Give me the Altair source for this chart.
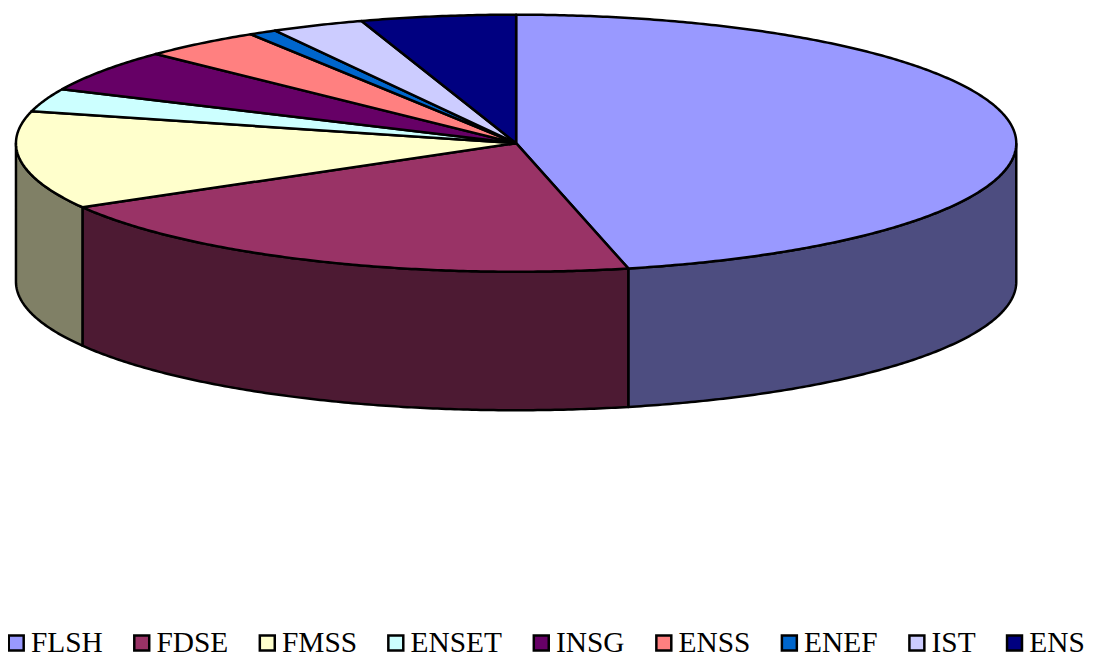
import math
import altair as alt
import pandas as pd

names = ["FLSH", "FDSE", "FMSS", "ENSET", "INSG", "ENSS", "ENEF", "IST", "ENS"]
shares = [46.4, 20.3, 12.3, 2.9, 5.3, 3.9, 0.9, 3.0, 5.0]
top_colors = ["#9999FF", "#993366", "#FFFFCC", "#CCFFFF", "#660066", "#FF8080", "#0066CC", "#CCCCFF", "#000080"]
wall_colors = ["#4D4D80", "#4D1A33", "#808066", "#668080", "#330033", "#804040", "#003366", "#666680", "#000040"]

CX, CY, RX, RY, DEPTH = 518, 142.5, 502, 129, 139
W, H = 1085, 650
total = sum(shares)

def pt(deg, drop=0):
    a = math.radians(deg)
    return CX + RX * math.sin(a), CY - RY * math.cos(a) + drop

top_rows, wall_rows = [], []
start = 0.0
for i, (n, s) in enumerate(zip(names, shares)):
    end = start + s / total * 360
    steps = max(2, int((end - start) * 2))
    degs = [start + (end - start) * k / steps for k in range(steps + 1)]
    poly = [(CX, CY)] + [pt(d) for d in degs] + [(CX, CY)]
    for k, (x, y) in enumerate(poly):
        top_rows.append(dict(name=n, x=x, y=y, k=k))
    lo, hi = max(start, 90.0), min(end, 270.0)
    if lo < hi:
        wsteps = int((hi - lo) * 2)
        wd = [lo + (hi - lo) * k / wsteps for k in range(wsteps + 1)]
        ring = [pt(d) for d in wd] + [pt(d, DEPTH) for d in reversed(wd)]
        ring.append(ring[0])
        for k, (x, y) in enumerate(ring):
            wall_rows.append(dict(name=n, wall=wall_colors[i], x=x, y=y, k=k))
    start = end

xs = alt.X("x:Q", axis=None, scale=alt.Scale(domain=[8, 8 + W], nice=False, zero=False))
ys = alt.Y("y:Q", axis=None, scale=alt.Scale(domain=[8 + H, 8], nice=False, zero=False))

walls = alt.Chart(pd.DataFrame(wall_rows)).mark_line(stroke="black", strokeWidth=2.5, strokeJoin="round").encode(
    x=xs, y=ys, order="k:Q", detail="name:N", fill=alt.Fill("wall:N", scale=None, legend=None))

tops = alt.Chart(pd.DataFrame(top_rows)).mark_line(stroke="black", strokeWidth=2.5, strokeJoin="round").encode(
    x=xs, y=ys, order="k:Q",
    fill=alt.Fill("name:N", sort=names, scale=alt.Scale(domain=names, range=top_colors),
        legend=alt.Legend(orient="none", legendX=-6.5, legendY=621, direction="horizontal", columns=9,
            title=None, symbolType="square", symbolSize=225, symbolStrokeColor="black", symbolStrokeWidth=2.5,
            labelFont="Liberation Serif", labelFontSize=29.5, labelColor="black", labelLimit=200,
            columnPadding=24, symbolOpacity=1, labelOffset=0, labelBaseline="middle")))

chart = (walls + tops).properties(width=W, height=H, padding=0,
    autosize=alt.AutoSizeParams(type="none")).configure_view(stroke=None).resolve_scale(fill="independent")
chart.save("out.html", embed_options={"renderer": "svg", "actions": False})
